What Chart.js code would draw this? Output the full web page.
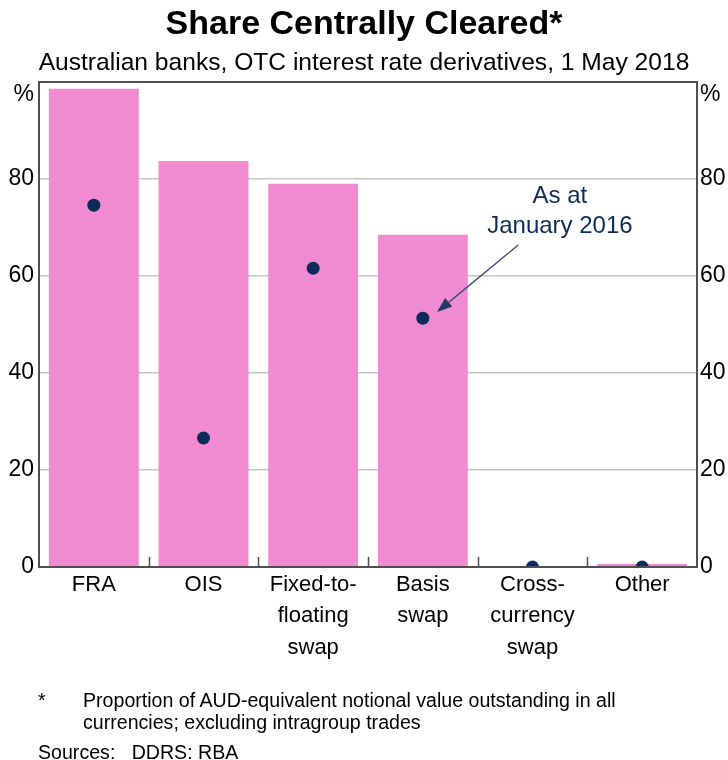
<!doctype html>
<html lang="en">
  <head>
    <meta charset="utf-8">
    <title>Share Centrally Cleared</title>
    <style>
      * {
        margin: 0;
        padding: 0;
      }
      body {
        width: 728px;
        height: 760px;
        overflow: hidden;
        background: #fff;
        font-family: 'Liberation Sans', Arial, sans-serif;
        color: #000;
      }
      .chartBox {
        position: absolute;
        left: 0;
        top: 0;
        width: 728px;
        height: 760px;
      }
      .title {
        position: absolute;
        left: 0;
        top: 3px;
        width: 728px;
        text-align: center;
        font-weight: bold;
        font-size: 34px;
        line-height: 38px;
      }
      .subtitle {
        position: absolute;
        left: 0;
        top: 48px;
        width: 728px;
        text-align: center;
        font-size: 24.6px;
        line-height: 28px;
      }
      .note {
        position: absolute;
        left: 38px;
        font-size: 19.6px;
        line-height: 22px;
      }
      .note .star {
        position: absolute;
        left: 0;
        top: 0;
      }
      .note .text {
        margin-left: 45px;
      }
    </style>
  </head>
  <body>
    <div class="chartBox">
      <canvas id="myChart"></canvas>
    </div>
    <div class="title">Share Centrally Cleared*</div>
    <div class="subtitle">Australian banks, OTC interest rate derivatives, 1 May 2018</div>
    <div class="note" style="top: 689px;">
      <span class="star">*</span>
      <div class="text">Proportion of AUD-equivalent notional value outstanding in all<br>currencies; excluding intragroup trades</div>
    </div>
    <div class="note" style="top: 741px;">Sources:&nbsp;&nbsp; DDRS: RBA</div>

    <script src="https://cdn.jsdelivr.net/npm/chart.js/dist/chart.umd.min.js"></script>
    <script>
    // data
    const categories = [['FRA'], ['OIS'], ['Fixed-to-', 'floating', 'swap'], ['Basis', 'swap'], ['Cross-', 'currency', 'swap'], ['Other']];
    const may2018 = [98.6, 83.7, 79.0, 68.5, 0, 0.6];
    const jan2016 = [74.6, 26.6, 61.6, 51.3, 0, 0];
    const yMin = 0;
    const yMax = 100;
    const yStep = 20;
    const annotationLines = ['As at', 'January 2016'];

    const pink = '#f08bd1';
    const navy = '#0c2b5a';
    const frameColor = '#505050';

    // frame, inner category ticks, % labels and annotation
    const extras = {
      id: 'extras',
      afterDatasetsDraw(chart) {
        const { ctx, chartArea: { left, right, top, bottom }, scales: { x, y, y2 } } = chart;
        ctx.save();

        // category boundary ticks
        ctx.strokeStyle = frameColor;
        ctx.lineWidth = 1.5;
        for (let i = 1; i < categories.length; i++) {
          const px = Math.round((x.getPixelForValue(i - 1) + x.getPixelForValue(i)) / 2) + 0.5;
          ctx.beginPath();
          ctx.moveTo(px, bottom);
          ctx.lineTo(px, bottom - 10);
          ctx.stroke();
        }

        // frame
        ctx.lineWidth = 2;
        ctx.strokeRect(left, top, right - left, bottom - top);

        // % unit labels
        ctx.fillStyle = '#000';
        ctx.font = '23px "Liberation Sans", Arial, sans-serif';
        ctx.textBaseline = 'middle';
        const pctY = y.getPixelForValue(97.3);
        ctx.textAlign = 'right';
        ctx.fillText('%', y.right - 5, pctY);
        ctx.textAlign = 'left';
        ctx.fillText('%', y2.left + 3, pctY);

        // annotation text
        ctx.fillStyle = navy;
        ctx.font = '24px "Liberation Sans", Arial, sans-serif';
        ctx.textAlign = 'center';
        const tx = x.getPixelForValue(4.25);
        ctx.fillText(annotationLines[0], tx, y.getPixelForValue(76.5));
        ctx.fillText(annotationLines[1], tx, y.getPixelForValue(70.3));

        // arrow to the Basis swap dot
        const x0 = x.getPixelForValue(3.87), y0 = y.getPixelForValue(66.4);
        const x1 = x.getPixelForValue(3.13), y1 = y.getPixelForValue(52.6);
        const ang = Math.atan2(y1 - y0, x1 - x0);
        const headLen = 15, headW = 5.5;
        const bx = x1 - headLen * Math.cos(ang), by = y1 - headLen * Math.sin(ang);
        ctx.strokeStyle = '#3b5680';
        ctx.fillStyle = '#1f3a66';
        ctx.lineWidth = 1.5;
        ctx.beginPath();
        ctx.moveTo(x0, y0);
        ctx.lineTo(bx, by);
        ctx.stroke();
        ctx.beginPath();
        ctx.moveTo(x1, y1);
        ctx.lineTo(bx + headW * Math.sin(ang), by - headW * Math.cos(ang));
        ctx.lineTo(bx - headW * Math.sin(ang), by + headW * Math.cos(ang));
        ctx.closePath();
        ctx.fill();

        ctx.restore();
      }
    };

    const yTicks = {
      stepSize: yStep,
      color: '#000',
      padding: 5,
      font: { family: '"Liberation Sans", Arial, sans-serif', size: 23 },
      callback: (v) => v === yMax ? '' : v
    };

    const config = {
      type: 'bar',
      data: {
        labels: categories,
        datasets: [{
          type: 'line',
          label: 'As at January 2016',
          data: jan2016,
          showLine: false,
          pointRadius: 6.5,
          pointBackgroundColor: navy,
          pointBorderWidth: 0,
          clip: 0,
          order: 0
        }, {
          label: '1 May 2018',
          data: may2018,
          backgroundColor: pink,
          barPercentage: 0.82,
          categoryPercentage: 1,
          order: 1
        }]
      },
      options: {
        responsive: true,
        maintainAspectRatio: false,
        animation: false,
        layout: {
          padding: { top: 82, bottom: 63, left: 0, right: 0 }
        },
        scales: {
          x: {
            grid: { display: false, drawTicks: false },
            border: { display: false },
            ticks: {
              color: '#000',
              padding: 2,
              maxRotation: 0,
              autoSkip: false,
              font: { family: '"Liberation Sans", Arial, sans-serif', size: 22, lineHeight: 1.43 }
            },
            afterFit: (s) => { s.height = 130; }
          },
          y: {
            min: yMin,
            max: yMax,
            position: 'left',
            grid: { color: '#c6c6c6', lineWidth: 1.5, drawTicks: false },
            border: { display: false },
            ticks: yTicks,
            afterFit: (s) => { s.width = 39; }
          },
          y2: {
            min: yMin,
            max: yMax,
            position: 'right',
            grid: { display: false, drawTicks: false },
            border: { display: false },
            ticks: Object.assign({}, yTicks, { padding: 3 }),
            afterFit: (s) => { s.width = 31; }
          }
        },
        plugins: {
          legend: { display: false },
          tooltip: { enabled: false }
        }
      },
      plugins: [extras]
    };

    const myChart = new Chart(document.getElementById('myChart'), config);
    </script>
  </body>
</html>
